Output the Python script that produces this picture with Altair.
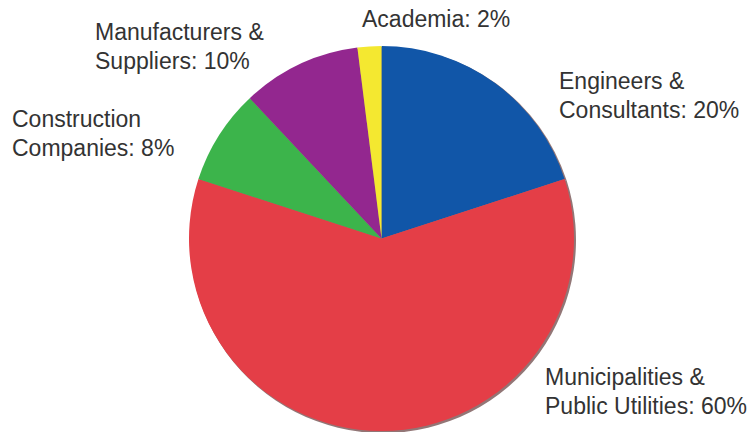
import altair as alt
import pandas as pd

# Data
categories = ["Engineers & Consultants", "Municipalities & Public Utilities",
              "Construction Companies", "Manufacturers & Suppliers", "Academia"]
shares = [20, 60, 8, 10, 2]
colors = ["#1156A8", "#E43E47", "#3CB44B", "#93278F", "#F4E830"]
label_lines = [
    ["Engineers &", "Consultants: 20%"],
    ["Municipalities &", "Public Utilities: 60%"],
    ["Construction", "Companies: 8%"],
    ["Manufacturers &", "Suppliers: 10%"],
    ["Academia: 2%"],
]

df = pd.DataFrame({"category": categories, "share": shares, "order": list(range(len(categories)))})

# Layout (chart pixel coordinates)
CX, CY, R = 373.5, 230.5, 192.5
label_pos = [(551, 74), (537, 370), (4, 112), (87, 25), (354, 12)]

color_scale = alt.Scale(domain=categories, range=colors)

base = alt.Chart(df)

shadow = base.mark_arc(outerRadius=R + 0.5, color="#4a1a1a", opacity=0.6).encode(
    theta=alt.Theta("share:Q", stack=True),
    order=alt.Order("order:Q"),
    x=alt.value(CX + 1.5), y=alt.value(CY + 1.5),
)

pie = base.mark_arc(outerRadius=R, stroke=None).encode(
    theta=alt.Theta("share:Q", stack=True),
    color=alt.Color("category:N", scale=color_scale, legend=None),
    order=alt.Order("order:Q"),
    x=alt.value(CX), y=alt.value(CY),
)

layers = [shadow, pie]
for lines, (lx, ly) in zip(label_lines, label_pos):
    layers.append(
        alt.Chart(pd.DataFrame({"a": [0]})).mark_text(
            align="left", baseline="middle", font="Liberation Sans",
            fontSize=23, lineHeight=28.5, color="#333333",
        ).encode(x=alt.value(lx), y=alt.value(ly), text=alt.value(lines))
    )

chart = alt.layer(*layers).properties(
    width=740, height=424,
    autosize=alt.AutoSizeParams(type="fit", contains="padding"),
    padding=0,
).configure_view(stroke=None)

chart.save("out.html", embed_options={"renderer": "svg", "actions": False})
